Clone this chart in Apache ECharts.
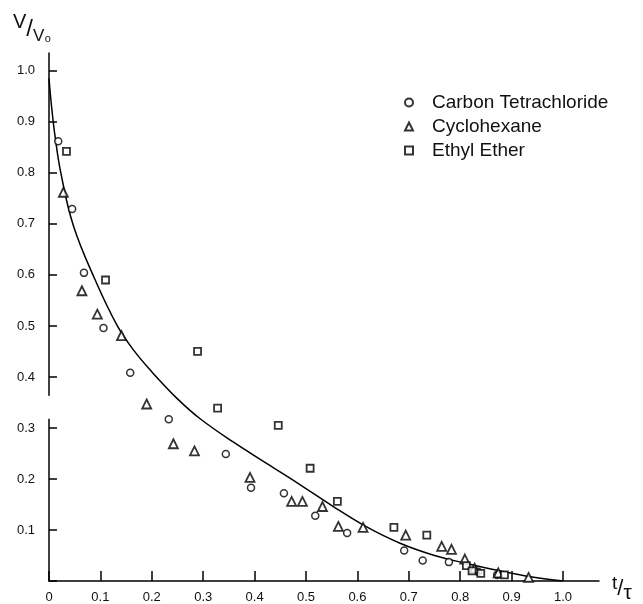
<!DOCTYPE html>
<html>
<head>
<meta charset="utf-8">
<script src="https://cdn.jsdelivr.net/npm/echarts@6/dist/echarts.min.js"></script>
<style>
  html, body { margin: 0; padding: 0; background: #fff; }
  #chart { width: 643px; height: 604px; }
</style>
</head>
<body>
<div id="chart"></div>
<script>
// volume ratio V/Vo against reduced time t/tau
var ctT = [0.018, 0.045, 0.068, 0.106, 0.158, 0.233, 0.344, 0.393, 0.457, 0.518, 0.580, 0.691, 0.727, 0.778, 0.835, 0.872];
var ctV = [0.862, 0.729, 0.604, 0.496, 0.408, 0.317, 0.249, 0.183, 0.172, 0.128, 0.094, 0.060, 0.040, 0.037, 0.018, 0.012];

var chT = [0.028, 0.064, 0.094, 0.141, 0.190, 0.242, 0.283, 0.391, 0.472, 0.493, 0.532, 0.563, 0.611, 0.694, 0.764, 0.783, 0.809, 0.828, 0.874, 0.933];
var chV = [0.762, 0.569, 0.523, 0.481, 0.347, 0.269, 0.255, 0.203, 0.156, 0.156, 0.146, 0.107, 0.105, 0.090, 0.068, 0.062, 0.043, 0.025, 0.016, 0.007];

var eeT = [0.034, 0.110, 0.289, 0.328, 0.446, 0.508, 0.561, 0.671, 0.735, 0.812, 0.823, 0.840, 0.886];
var eeV = [0.842, 0.590, 0.450, 0.339, 0.305, 0.221, 0.156, 0.105, 0.090, 0.030, 0.020, 0.015, 0.012];

// curve
var curveT = [0, 0.005, 0.012, 0.023, 0.047, 0.089, 0.133, 0.165, 0.200, 0.250, 0.294, 0.359, 0.424, 0.488, 0.553, 0.618, 0.683, 0.750, 0.810, 0.877, 0.940, 1.0];
var curveV = [0.985, 0.930, 0.870, 0.800, 0.698, 0.592, 0.500, 0.452, 0.410, 0.357, 0.318, 0.272, 0.230, 0.189, 0.146, 0.106, 0.074, 0.050, 0.035, 0.020, 0.008, 0.0];

var seriesNames = ['Carbon Tetrachloride', 'Cyclohexane', 'Ethyl Ether'];

function pairs(xs, ys) {
    return xs.map(function (x, i) { return [x, ys[i]]; });
}

var font = '"Liberation Sans", Arial, sans-serif';
var chart = echarts.init(document.getElementById('chart'));

var option = {
    animation: false,
    backgroundColor: '#fff',
    grid: { left: 49, right: 44, top: 53, bottom: 21, containLabel: false },
    legend: {
        orient: 'vertical',
        left: 399,
        top: 88,
        itemWidth: 8,
        itemHeight: 8,
        itemGap: 5,
        data: seriesNames,
        textStyle: { color: '#111', fontSize: 19, fontFamily: font, padding: [0, 0, 0, 14], lineHeight: 19 }
    },
    xAxis: {
        type: 'value',
        min: 0,
        max: 1.07,
        interval: 0.1,
        splitLine: { show: false },
        axisLine: { lineStyle: { color: '#000', width: 1.5 } },
        axisTick: { inside: true, length: 10, lineStyle: { color: '#000', width: 1.5 } },
        axisLabel: {
            color: '#111', fontSize: 13, fontFamily: font, margin: 10,
            showMaxLabel: false,
            formatter: function (v) { return v > 1.001 ? '' : (v === 0 ? '0' : v.toFixed(1)); }
        }
    },
    yAxis: {
        type: 'value',
        min: 0,
        max: 1.035,
        interval: 0.1,
        splitLine: { show: false },
        axisLine: { lineStyle: { color: '#000', width: 1.5 } },
        axisTick: { inside: true, length: 8, lineStyle: { color: '#000', width: 1.5 } },
        axisLabel: {
            color: '#111', fontSize: 13, fontFamily: font, margin: 14,
            showMaxLabel: false,
            formatter: function (v) { return (v === 0 || v > 1.001) ? '' : v.toFixed(1); }
        }
    },
    series: [
        {
            name: seriesNames[0], type: 'scatter', symbol: 'circle', symbolSize: 7,
            itemStyle: { color: '#fff', borderColor: '#000', borderWidth: 1.5 },
            data: pairs(ctT, ctV), z: 3
        },
        {
            name: seriesNames[1], type: 'scatter', symbol: 'triangle', symbolSize: 9,
            itemStyle: { color: '#fff', borderColor: '#000', borderWidth: 1.8 },
            data: pairs(chT, chV), z: 3
        },
        {
            name: seriesNames[2], type: 'scatter', symbol: 'rect', symbolSize: 7,
            itemStyle: { color: '#fff', borderColor: '#000', borderWidth: 1.8 },
            data: pairs(eeT, eeV), z: 3
        },
        {
            name: 'curve', type: 'line', smooth: 0.4, showSymbol: false,
            lineStyle: { color: '#000', width: 1.5 },
            data: pairs(curveT, curveV), z: 2
        }
    ],
    graphic: [
        {
            id: 'yname', type: 'text', left: 13, top: 12,
            style: {
                text: '{a|V}{s|/}{b|V₀}',
                rich: {
                    a: { fontSize: 20, fontFamily: font, fill: '#111', padding: [0, 0, 14, 0] },
                    s: { fontSize: 24, fontFamily: font, fill: '#111' },
                    b: { fontSize: 17, fontFamily: font, fill: '#111', padding: [14, 0, 0, 0] }
                }
            }
        },
        {
            id: 'xname', type: 'text', left: 612, top: 574,
            style: {
                text: '{a|t}{s|/}{b|τ}',
                rich: {
                    a: { fontSize: 19, fontFamily: font, fill: '#111', padding: [0, 0, 10, 0] },
                    s: { fontSize: 22, fontFamily: font, fill: '#111' },
                    b: { fontSize: 21, fontFamily: font, fill: '#111', padding: [10, 0, 0, 0] }
                }
            }
        }
    ]
};
option && chart.setOption(option);

// gap in the vertical axis line between 0.32 and 0.37
var pTop = chart.convertToPixel({ gridIndex: 0 }, [0, 0.363]);
var pBot = chart.convertToPixel({ gridIndex: 0 }, [0, 0.318]);
chart.setOption({
    graphic: [{
        id: 'axisgap', type: 'rect', z: 100,
        shape: { x: pTop[0] - 3, y: pTop[1], width: 6, height: pBot[1] - pTop[1] },
        style: { fill: '#fff' }
    }]
});
</script>
</body>
</html>
